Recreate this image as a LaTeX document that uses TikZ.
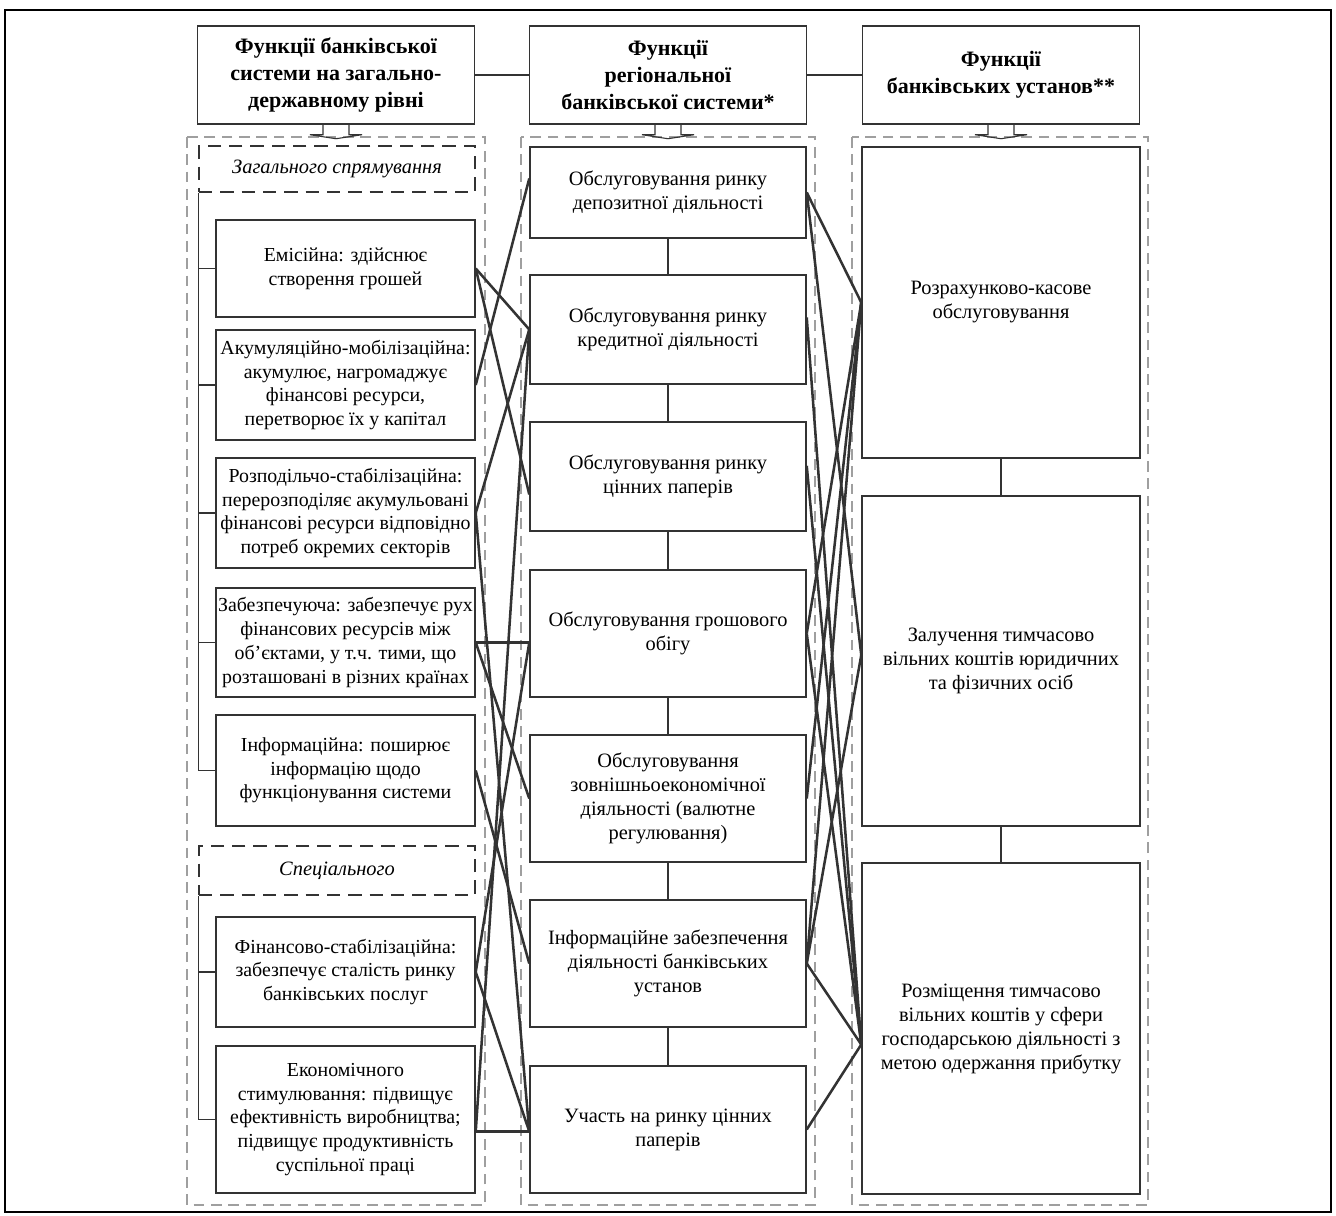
\documentclass[tikz,border=0pt]{standalone}
\usepackage{fontspec}
\setmainfont{Liberation Serif}
\usetikzlibrary{calc}
\definecolor{ln}{HTML}{333333}
\tikzset{
  box/.style={draw=ln, line width=1.1pt, align=center, inner sep=2pt,
    font=\fontsize{15.3}{18}\selectfont},
  head/.style={box, minimum width=208pt, minimum height=73.5pt,
    font=\bfseries\fontsize{16.5}{20.5}\selectfont},
  lbox/.style={box, minimum width=194.25pt, inner xsep=0pt,
    font=\fontsize{14.9}{17.8}\selectfont},
  mbox/.style={box, minimum width=207pt},
  rbox/.style={box, minimum width=208.5pt},
  sect/.style={box, dash pattern=on 10pt off 6pt, minimum width=207pt,
    font=\itshape\fontsize{15.3}{18}\selectfont},
  grp/.style={draw=gray!75, line width=1pt, dash pattern=on 8pt off 5pt},
  link/.style={draw=ln, line width=1.9pt},
  thinl/.style={draw=ln, line width=1pt},
}
\begin{document}
\begin{tikzpicture}[x=0.75pt, y=-0.75pt]
  \useasboundingbox (0,0) rectangle (1336,1216);
  \draw[line width=2pt] (5,10) rectangle (1331,1212);

  \node[head] (hA) at (336,75) {Функції банківської\\системи на загально-\\державному рівні};
  \node[head] (hB) at (668,75) {Функції\\регіональної\\банківської системи*};
  \node[head] (hC) at (1001,75) {Функції\\банківських установ**};
  \draw[thinl] (hA) -- (hB);
  \draw[thinl] (hB) -- (hC);

  \draw[grp] (187,137) rectangle (485,1205);
  \draw[grp] (521,137) rectangle (815,1205);
  \draw[grp] (852,137) rectangle (1148,1205);

  \foreach \h in {hA,hB,hC}
    \draw[ln, line width=0.8pt] ($(\h.south)+(-13,0)$) -- ++(0,10) -- ++(-13,0)
      -- ++(26,4) -- ++(26,-4) -- ++(-13,0) -- ++(0,-10);

  \node[sect, minimum height=34.5pt] (sA) at (337,169) {Загального спрямування};
  \node[lbox, minimum height=72.75pt] (L1) at (345.5,268.5) {Емісійна: здійснює\\створення грошей};
  \node[lbox, minimum height=82.5pt] (L2) at (345.5,385) {Акумуляційно-мобілізаційна:\\акумулює, нагромаджує\\фінансові ресурси,\\перетворює їх у капітал};
  \node[lbox, minimum height=82.5pt] (L3) at (345.5,513) {Розподільчо-стабілізаційна:\\перерозподіляє акумульовані\\фінансові ресурси відповідно\\потреб окремих секторів};
  \node[lbox, minimum height=81.75pt] (L4) at (345.5,642.5) {Забезпечуюча: забезпечує рух\\фінансових ресурсів між\\об'єктами, у т.ч. тими, що\\розташовані в різних країнах};
  \node[lbox, minimum height=83.25pt] (L5) at (345.5,770.5) {Інформаційна: поширює\\інформацію щодо\\функціонування системи};
  \node[sect, minimum height=36.75pt] (sB) at (337,870.5) {Спеціального};
  \node[lbox, minimum height=82.5pt] (L6) at (345.5,972) {Фінансово-стабілізаційна:\\забезпечує сталість ринку\\банківських послуг};
  \node[lbox, minimum height=110.25pt] (L7) at (345.5,1119.5) {Економічного\\стимулювання: підвищує\\ефективність виробництва;\\підвищує продуктивність\\суспільної праці};

  \draw[thinl] (sA.south west) -- (sA.south west |- L5.west);
  \foreach \n in {L1,L2,L3,L4,L5}
    \draw[thinl] (sA.south west |- \n.west) -- (\n.west);
  \draw[thinl] (sB.south west) -- (sB.south west |- L7.west);
  \foreach \n in {L6,L7}
    \draw[thinl] (sB.south west |- \n.west) -- (\n.west);

  \node[mbox, minimum height=68.25pt] (M1) at (668,192.5) {Обслуговування ринку\\депозитної діяльності};
  \node[mbox, minimum height=81.75pt] (M2) at (668,329.5) {Обслуговування ринку\\кредитної діяльності};
  \node[mbox, minimum height=81.75pt] (M3) at (668,476.5) {Обслуговування ринку\\цінних паперів};
  \node[mbox, minimum height=95.25pt] (M4) at (668,633.5) {Обслуговування грошового\\обігу};
  \node[mbox, minimum height=95.25pt] (M5) at (668,798.5) {Обслуговування\\зовнішньоекономічної\\діяльності (валютне\\регулювання)};
  \node[mbox, minimum height=95.25pt] (M6) at (668,963.5) {Інформаційне забезпечення\\діяльності банківських\\установ};
  \node[mbox, minimum height=95.25pt] (M7) at (668,1129.5) {Участь на ринку цінних\\паперів};
  \foreach \a/\b in {M1/M2,M2/M3,M3/M4,M4/M5,M5/M6,M6/M7}
    \draw[thinl] (\a) -- (\b);

  \node[rbox, minimum height=233.25pt] (R1) at (1001,302.5) {Розрахунково-касове\\обслуговування};
  \node[rbox, minimum height=247.5pt] (R2) at (1001,661) {Залучення тимчасово\\вільних коштів юридичних\\та фізичних осіб};
  \node[rbox, minimum height=248.25pt] (R3) at (1001,1028.5) {Розміщення тимчасово\\вільних коштів у сфери\\господарською діяльності з\\метою одержання прибутку};
  \draw[thinl] (R1) -- (R2);
  \draw[thinl] (R2) -- (R3);

  \coordinate (l7e) at ([yshift=-9pt]L7.east);
  \coordinate (m1w) at ([yshift=10.5pt]M1.west);
  \coordinate (m3w) at ([yshift=-13.5pt]M3.west);
  \coordinate (m4w) at (L4.east -| M4.west);
  \coordinate (m7w) at (l7e -| M7.west);
  \coordinate (m2e) at ([yshift=9pt]M2.east);
  \coordinate (m3e) at ([yshift=8pt]M3.east);
  \coordinate (r2w) at ([yshift=4.5pt]R2.west);
  \coordinate (r3w) at ([yshift=-12pt]R3.west);

  \draw[link] (L1.east) -- (M2.west);
  \draw[link] (L1.east) -- (m3w);
  \draw[link] (L2.east) -- (m1w);
  \draw[link] (L3.east) -- (M2.west);
  \draw[link] (L3.east) -- (m7w);
  \draw[link] (L4.east) -- (m4w);
  \draw[link] (L4.east) -- (M5.west);
  \draw[link] (L5.east) -- (M6.west);
  \draw[link] (L6.east) -- (m4w);
  \draw[link] (L6.east) -- (m7w);
  \draw[link] (l7e) -- (m7w);
  \draw[link] (l7e) -- (M2.west);

  \draw[link] (M1.east) -- (R1.west);
  \draw[link] (M1.east) -- (r2w);
  \draw[link] (m2e) -- (r3w);
  \draw[link] (m3e) -- (r3w);
  \draw[link] (M4.east) -- (R1.west);
  \draw[link] (M4.east) -- (r3w);
  \draw[link] (M5.east) -- (R1.west);
  \draw[link] (M6.east) -- (R1.west);
  \draw[link] (M6.east) -- (r2w);
  \draw[link] (M6.east) -- (r3w);
  \draw[link] (M7.east) -- (r3w);
\end{tikzpicture}
\end{document}
